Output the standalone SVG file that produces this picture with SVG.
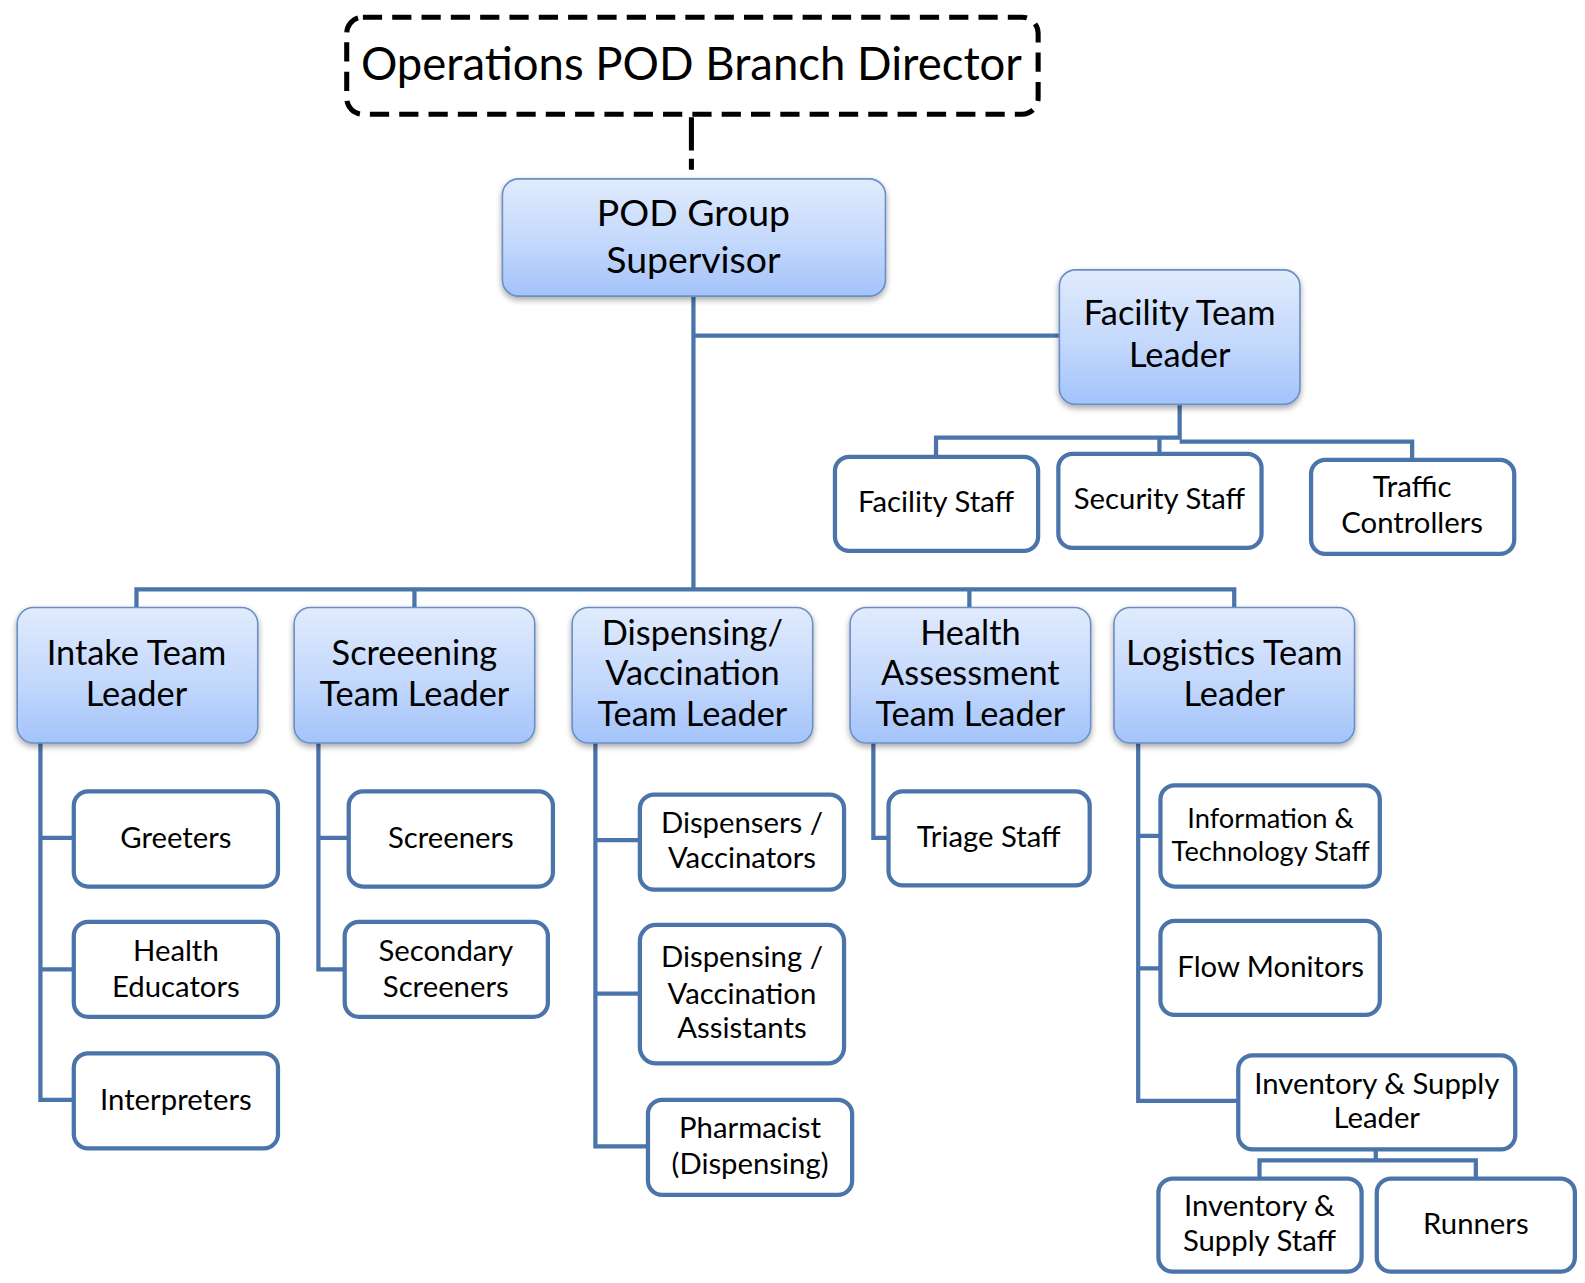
<svg xmlns="http://www.w3.org/2000/svg" width="1585" height="1283" viewBox="0 0 1585 1283">
  <style>
    .lead rect { fill: url(#leadFill); stroke: #6a8ec6; stroke-width: 1.6; filter: url(#shadow); }
    .staff rect { fill: #ffffff; stroke: #4a74aa; stroke-width: 4.2; }
    text { font-family: Lato, "Noto Sans", "Liberation Sans", sans-serif; fill: #000; text-anchor: middle; }
    .lead text { font-size: 34px; }
    .staff text { font-size: 29px; }
    .staff text.small { font-size: 27px; }
    .conn { fill: none; stroke: #4a74aa; stroke-width: 4.2; }
    .dash { fill: none; stroke: #000; stroke-width: 5; stroke-dasharray: 19 10; }
  </style>
  <defs>
    <linearGradient id="leadFill" x1="0" y1="0" x2="0" y2="1">
      <stop offset="0" stop-color="#e1ebfd"/>
      <stop offset="0.55" stop-color="#c3d8fc"/>
      <stop offset="1" stop-color="#a3c3fa"/>
    </linearGradient>
    <filter id="shadow" x="-10%" y="-10%" width="120%" height="130%">
      <feGaussianBlur in="SourceAlpha" stdDeviation="3"/>
      <feOffset dx="0" dy="3" result="b"/>
      <feComponentTransfer><feFuncA type="linear" slope="0.35"/></feComponentTransfer>
      <feMerge><feMergeNode/><feMergeNode in="SourceGraphic"/></feMerge>
    </filter>
  </defs>
  <rect width="1585" height="1283" fill="#ffffff"/>
  <g transform="scale(1.01084)">
    <!-- connectors -->
    <g id="connectors">
      <path class="dash" d="M684 116 V168" style="stroke-dasharray: 33 8"/>
      <path class="conn" d="M686 293 V583"/>
      <path class="conn" d="M686 332 H1048"/>
      <path class="conn" d="M1167 400 V435 M926 452 V433 H1167 M1147 449 V433 M1167 437 H1397 V455"/>
      <path class="conn" d="M135 601 V583 H1221 V601 M410 583 V601 M959 583 V601"/>
      <path class="conn" d="M40 735 V1088 H73 M40 829 H73 M40 959 H73"/>
      <path class="conn" d="M315 735 V959 H341 M315 829 H345"/>
      <path class="conn" d="M589 735 V1134 H641 M589 831 H633 M589 983 H633"/>
      <path class="conn" d="M864 735 V829 H879"/>
      <path class="conn" d="M1126 735 V1089 H1225 M1126 827 H1148 M1126 958 H1148"/>
      <path class="conn" d="M1361 1137 V1148 M1246 1166 V1148 H1460 V1166"/>
    </g>

    <!-- top director box -->
    <g id="branch-director">
      <rect class="dash" x="343" y="17" width="684" height="96" rx="16"/>
      <text x="684" y="79" font-size="45">Operations POD Branch Director</text>
    </g>

    <g id="pod-group-supervisor" class="lead">
      <rect x="497" y="177" width="379" height="116" rx="16"/>
      <text x="686" y="224" style="font-size:37px">POD Group</text>
      <text x="686" y="270" style="font-size:37px">Supervisor</text>
    </g>

    <g id="facility-team-leader" class="lead">
      <rect x="1048" y="267" width="238" height="133" rx="16"/>
      <text x="1167" y="322">Facility Team</text>
      <text x="1167" y="363">Leader</text>
    </g>

    <g id="facility-staff" class="staff">
      <rect x="826" y="452" width="201" height="93" rx="14"/>
      <text x="926" y="507">Facility Staff</text>
    </g>
    <g id="security-staff" class="staff">
      <rect x="1047" y="449" width="201" height="93" rx="14"/>
      <text x="1147" y="504">Security Staff</text>
    </g>
    <g id="traffic-controllers" class="staff">
      <rect x="1297" y="455" width="201" height="93" rx="14"/>
      <text x="1397" y="492">Traffic</text>
      <text x="1397" y="527">Controllers</text>
    </g>

    <!-- team leaders -->
    <g id="intake-team-leader" class="lead">
      <rect x="17" y="601" width="238" height="134" rx="16"/>
      <text x="135" y="658">Intake Team</text>
      <text x="135" y="698">Leader</text>
    </g>
    <g id="screening-team-leader" class="lead">
      <rect x="291" y="601" width="238" height="134" rx="16"/>
      <text x="410" y="658">Screeening</text>
      <text x="410" y="698">Team Leader</text>
    </g>
    <g id="dispensing-team-leader" class="lead">
      <rect x="566" y="601" width="238" height="134" rx="16"/>
      <text x="685" y="638">Dispensing/</text>
      <text x="685" y="678">Vaccination</text>
      <text x="685" y="718">Team Leader</text>
    </g>
    <g id="health-assessment-team-leader" class="lead">
      <rect x="841" y="601" width="238" height="134" rx="16"/>
      <text x="960" y="638">Health</text>
      <text x="960" y="678">Assessment</text>
      <text x="960" y="718">Team Leader</text>
    </g>
    <g id="logistics-team-leader" class="lead">
      <rect x="1102" y="601" width="238" height="134" rx="16"/>
      <text x="1221" y="658">Logistics Team</text>
      <text x="1221" y="698">Leader</text>
    </g>

    <!-- intake staff -->
    <g id="greeters" class="staff">
      <rect x="73" y="783" width="202" height="94" rx="14"/>
      <text x="174" y="839">Greeters</text>
    </g>
    <g id="health-educators" class="staff">
      <rect x="73" y="912" width="202" height="94" rx="14"/>
      <text x="174" y="951">Health</text>
      <text x="174" y="986">Educators</text>
    </g>
    <g id="interpreters" class="staff">
      <rect x="73" y="1042" width="202" height="94" rx="14"/>
      <text x="174" y="1098">Interpreters</text>
    </g>

    <!-- screening staff -->
    <g id="screeners" class="staff">
      <rect x="345" y="783" width="202" height="94" rx="14"/>
      <text x="446" y="839">Screeners</text>
    </g>
    <g id="secondary-screeners" class="staff">
      <rect x="341" y="912" width="201" height="94" rx="14"/>
      <text x="441" y="951">Secondary</text>
      <text x="441" y="986">Screeners</text>
    </g>

    <!-- dispensing staff -->
    <g id="dispensers-vaccinators" class="staff">
      <rect x="633" y="786" width="202" height="94" rx="14"/>
      <text x="734" y="824">Dispensers /</text>
      <text x="734" y="859">Vaccinators</text>
    </g>
    <g id="dispensing-assistants" class="staff">
      <rect x="633" y="915" width="202" height="137" rx="16"/>
      <text x="734" y="957">Dispensing /</text>
      <text x="734" y="993">Vaccination</text>
      <text x="734" y="1027">Assistants</text>
    </g>
    <g id="pharmacist" class="staff">
      <rect x="641" y="1088" width="202" height="94" rx="14"/>
      <text x="742" y="1126">Pharmacist</text>
      <text x="742" y="1161">(Dispensing)</text>
    </g>

    <!-- health assessment staff -->
    <g id="triage-staff" class="staff">
      <rect x="879" y="783" width="199" height="93" rx="14"/>
      <text x="978" y="838">Triage Staff</text>
    </g>

    <!-- logistics staff -->
    <g id="it-staff" class="staff">
      <rect x="1148" y="777" width="217" height="100" rx="14"/>
      <text class="small" x="1257" y="819">Information &amp;</text>
      <text class="small" x="1257" y="852">Technology Staff</text>
    </g>
    <g id="flow-monitors" class="staff">
      <rect x="1148" y="911" width="217" height="93" rx="14"/>
      <text x="1257" y="967">Flow Monitors</text>
    </g>
    <g id="inventory-supply-leader" class="staff">
      <rect x="1225" y="1044" width="274" height="93" rx="14"/>
      <text x="1362" y="1082">Inventory &amp; Supply</text>
      <text x="1362" y="1116">Leader</text>
    </g>
    <g id="inventory-supply-staff" class="staff">
      <rect x="1146" y="1166" width="201" height="92" rx="14"/>
      <text x="1246" y="1203">Inventory &amp;</text>
      <text x="1246" y="1238">Supply Staff</text>
    </g>
    <g id="runners" class="staff">
      <rect x="1362" y="1166" width="196" height="92" rx="14"/>
      <text x="1460" y="1221">Runners</text>
    </g>
  </g>
</svg>
